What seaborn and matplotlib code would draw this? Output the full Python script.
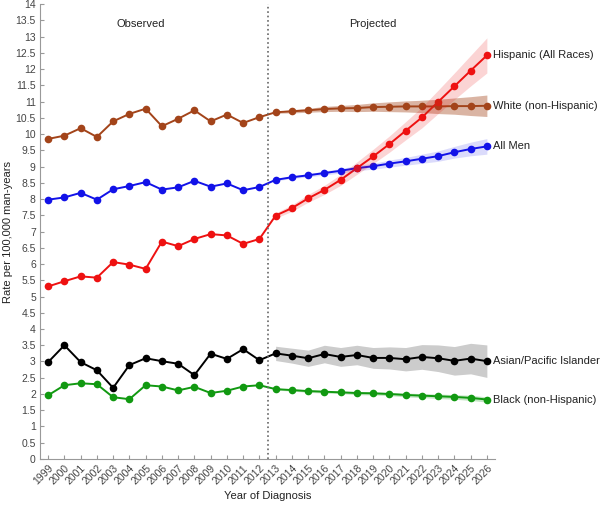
import numpy as np
import pandas as pd
import matplotlib
matplotlib.use("Agg")
import matplotlib.pyplot as plt
import seaborn as sns

years = list(range(1999, 2027))

white = [9.85, 9.95, 10.18, 9.91, 10.39, 10.62, 10.78, 10.24, 10.47, 10.73, 10.39, 10.60, 10.34, 10.52,
         10.67, 10.70, 10.73, 10.77, 10.79, 10.80, 10.83, 10.84, 10.85, 10.85, 10.85, 10.86, 10.86, 10.87]
all_men = [7.98, 8.05, 8.19, 7.98, 8.30, 8.40, 8.52, 8.29, 8.36, 8.56, 8.38, 8.48, 8.27, 8.37,
           8.59, 8.67, 8.73, 8.80, 8.87, 8.95, 9.01, 9.09, 9.16, 9.24, 9.32, 9.44, 9.54, 9.62]
hispanic = [5.31, 5.47, 5.62, 5.58, 6.06, 5.98, 5.85, 6.69, 6.55, 6.77, 6.92, 6.88, 6.62, 6.77,
            7.49, 7.72, 8.02, 8.28, 8.59, 8.95, 9.31, 9.69, 10.10, 10.51, 10.99, 11.47, 11.95, 12.42]
asian = [2.98, 3.50, 2.98, 2.73, 2.19, 2.89, 3.10, 3.01, 2.93, 2.58, 3.24, 3.08, 3.38, 3.04,
         3.25, 3.18, 3.10, 3.23, 3.14, 3.20, 3.11, 3.11, 3.07, 3.14, 3.10, 3.02, 3.09, 3.01]
black = [1.96, 2.27, 2.33, 2.30, 1.90, 1.84, 2.27, 2.23, 2.11, 2.22, 2.03, 2.10, 2.23, 2.27,
         2.15, 2.12, 2.09, 2.07, 2.05, 2.03, 2.02, 2.00, 1.97, 1.95, 1.93, 1.91, 1.88, 1.83]

# half-widths of the projection bands, 2013-2026
proj_years = list(range(2013, 2027))
white_hw = [0.03, 0.05, 0.06, 0.08, 0.09, 0.11, 0.13, 0.15, 0.17, 0.19, 0.22, 0.25, 0.29, 0.33]
men_hw = [0.03, 0.04, 0.05, 0.06, 0.07, 0.08, 0.09, 0.11, 0.12, 0.14, 0.16, 0.18, 0.21, 0.24]
hisp_hw = [0.08, 0.10, 0.12, 0.14, 0.17, 0.19, 0.22, 0.25, 0.28, 0.32, 0.36, 0.41, 0.47, 0.54]
asian_hw = [0.22, 0.23, 0.25, 0.27, 0.29, 0.30, 0.32, 0.34, 0.36, 0.38, 0.41, 0.44, 0.47, 0.50]
black_hw = [0.03, 0.03, 0.04, 0.04, 0.04, 0.05, 0.05, 0.05, 0.06, 0.06, 0.07, 0.07, 0.08, 0.08]

names = ["White (non-Hispanic)", "All Men", "Hispanic (All Races)",
         "Asian/Pacific Islander", "Black (non-Hispanic)"]
colors = ["#A3441A", "#1212E8", "#EE1111", "#000000", "#119911"]
band_alpha = [0.4, 0.15, 0.18, 0.2, 0.25]
series = [white, all_men, hispanic, asian, black]
bands = [white_hw, men_hw, hisp_hw, asian_hw, black_hw]

df = pd.concat([pd.DataFrame({"Year": years, "Rate": v, "Group": n})
                for n, v in zip(names, series)])

sns.set_style("ticks")
plt.rcParams['font.family'] = ['Liberation Sans', 'DejaVu Sans']

fig = plt.figure(figsize=(6, 5.08), dpi=100)
ax = fig.add_axes([0.0667, 0.0965, 0.7583, 0.8955])

sns.lineplot(data=df, x="Year", y="Rate", hue="Group", palette=dict(zip(names, colors)),
             marker="o", markersize=5.5, markeredgewidth=0, lw=1.4, legend=False, ax=ax)

# bands go on top of the lines, as in the original
for n, c, hw, a in zip(names, colors, bands, band_alpha):
    v = np.array(df.loc[df.Group == n, "Rate"])[-len(proj_years):]
    ax.fill_between(proj_years, v - np.array(hw), v + np.array(hw),
                    color=c, alpha=a, lw=0, zorder=3)

ax.axvline(2012.5, color="#666666", ls=":", lw=1.2)

for n, c, v in zip(names, colors, series):
    ax.text(2026.35, v[-1], n, fontsize=8, va="center", ha="left", color="#222222")

ax.text(2004.7, 13.38, "Observed", fontsize=8, ha="center", va="center", color="#222222")
ax.text(2019.0, 13.38, "Projected", fontsize=8, ha="center", va="center", color="#222222")

ax.set_xlim(1998.5, 2026.5)
ax.set_ylim(0, 14)
ax.set_xticks(years)
ax.set_xticklabels([str(y) for y in years], rotation=45, ha="right", rotation_mode="anchor")
yt = np.arange(0, 14.01, 0.5)
ax.set_yticks(yt)
ax.set_yticklabels(["%g" % t for t in yt])
ax.tick_params(labelsize=7.5, length=3, direction="in", colors="#999999",
               labelcolor="#444444", pad=3)
for s in ["left", "bottom"]:
    ax.spines[s].set_color("#999999")
sns.despine(ax=ax)
ax.set_xlabel("Year of Diagnosis", fontsize=8, color="#222222", labelpad=3)
ax.set_ylabel("Rate per 100,000 man-years", fontsize=8, color="#222222", labelpad=2)

fig.savefig("out.png", dpi=100)
